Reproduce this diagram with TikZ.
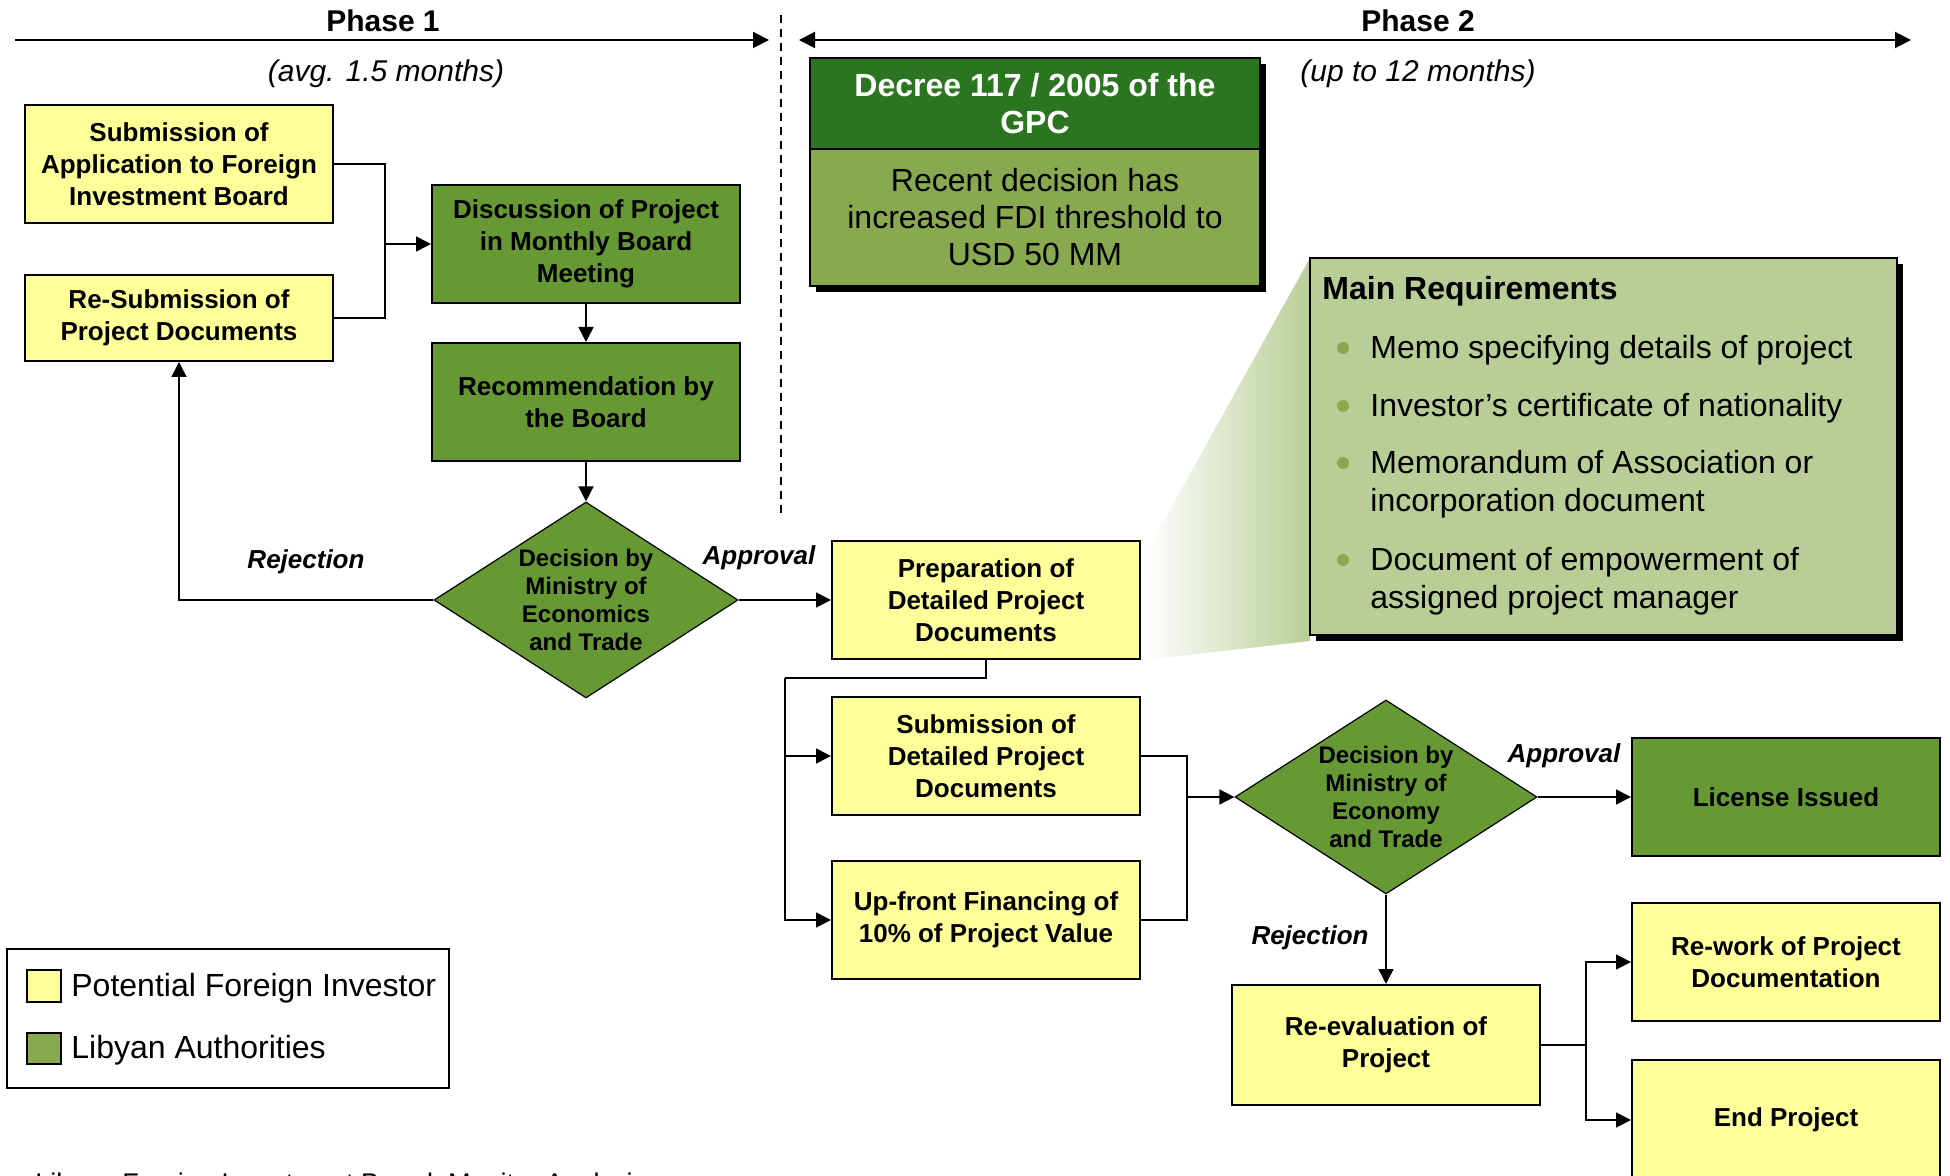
\documentclass[tikz,border=0pt]{standalone}
\usepackage{fontspec}
\setmainfont{Liberation Sans}
\usetikzlibrary{shapes.geometric,arrows.meta}

\definecolor{investor}{HTML}{FFFF99}
\definecolor{authority}{HTML}{669933}
\definecolor{decreehead}{HTML}{2B7521}
\definecolor{decreebody}{HTML}{88A94F}
\definecolor{reqfill}{HTML}{B9CE96}

\begin{document}
\begin{tikzpicture}[x=0.5pt, y=-0.5pt,
   box/.style={draw, line width=1pt, inner sep=0pt, align=center,
      font=\fontsize{13}{16}\selectfont\bfseries,
      minimum width=154pt, minimum height=59pt},
   invbox/.style={box, fill=investor},
   authbox/.style={box, fill=authority},
   decision/.style={diamond, draw, line width=0.6pt, fill=authority, inner sep=0pt,
      aspect=1.55, minimum width=152pt, minimum height=98pt, align=center,
      font=\fontsize{12}{14}\selectfont\bfseries},
   link/.style={line width=0.8pt},
   arrow/.style={link, -{Triangle[length=7.5pt,width=7.5pt]}},
   outcome/.style={font=\fontsize{13}{16}\selectfont\bfseries\itshape},
   phase/.style={line width=1pt, {Triangle[length=8pt,width=8pt]}-{Triangle[length=8pt,width=8pt]}},
   reqtext/.style={anchor=base west, inner sep=0pt, font=\fontsize{16}{19}\selectfont}]
   \useasboundingbox (0,0) rectangle (1950,1176);

   % draw phase arrows and divider
   \draw[line width=1pt, -{Triangle[length=8pt,width=8pt]}] (15,40) -- (769,40);
   \draw[phase] (799,40) -- (1911,40);
   \draw[line width=0.6pt, dash pattern=on 4pt off 3pt] (781,15) -- (781,516);
   \node[font=\fontsize{15}{18}\selectfont\bfseries] (phaseone) at (383,21) {Phase 1};
   \node[font=\fontsize{15}{18}\selectfont\bfseries] (phasetwo) at (1418,21) {Phase 2};
   \node[font=\fontsize{15}{18}\selectfont\itshape] (timeone) at (386,74) {(avg. 1.5 months)};
   \node[font=\fontsize{15}{18}\selectfont\itshape] (timetwo) at (1418,74) {(up to 12 months)};

   % draw decree box
   \fill (816,64) rectangle (1266,292);
   \node[draw, line width=0.8pt, fill=decreehead, text=white, minimum width=225pt, minimum height=45.5pt,
      inner sep=0pt, align=center, font=\fontsize{16}{18.5}\selectfont\bfseries] (decree) at (1035,103.5)
      {Decree 117 / 2005 of the\\GPC};
   \node[draw, line width=0.8pt, fill=decreebody, minimum width=225pt, minimum height=68.5pt,
      inner sep=0pt, align=center, font=\fontsize{16}{18.5}\selectfont] (threshold) at (1035,217.5)
      {Recent decision has\\increased FDI threshold to\\USD 50 MM};

   % draw requirements callout
   \shade[left color=white, right color=reqfill] (1152,542) -- (1310,258) -- (1310,641) -- (1145,660) -- cycle;
   \fill (1316,264) rectangle (1903,641);
   \node[draw, line width=0.8pt, fill=reqfill, minimum width=293.5pt, minimum height=188.5pt,
      inner sep=0pt] (req) at (1603.5,446.5) {};
   \node[reqtext, font=\fontsize{16}{19}\selectfont\bfseries] (reqtitle) at (1322,300) {Main Requirements};
   \foreach \y in {348,406,463,560}
     \fill[decreebody] (1343,\y) circle (3pt);
   \foreach \y/\t [count=\i] in {359/Memo specifying details of project,
         417/Investor’s certificate of nationality,
         474/Memorandum of Association or,
         512/incorporation document,
         571/Document of empowerment of,
         609/assigned project manager}
     \node[reqtext] (reqline\i) at (1370,\y) {\t};

   % draw process nodes
   \node[invbox] (subapp) at (179,164) {Submission of\\Application to Foreign\\Investment Board};
   \node[invbox, minimum height=43pt] (resub) at (179,318) {Re-Submission of\\Project Documents};
   \node[authbox] (discuss) at (586,244) {Discussion of Project\\in Monthly Board\\Meeting};
   \node[authbox] (recomm) at (586,402) {Recommendation by\\the Board};
   \node[decision] (decone) at (586,600) {Decision by\\Ministry of\\Economics\\and Trade};
   \node[invbox] (prep) at (986,600) {Preparation of\\Detailed Project\\Documents};
   \node[invbox] (subdet) at (986,756) {Submission of\\Detailed Project\\Documents};
   \node[invbox] (upfront) at (986,920) {Up-front Financing of\\10\% of Project Value};
   \node[decision, minimum width=151pt, minimum height=97pt] (dectwo) at (1386,797)
      {Decision by\\Ministry of\\Economy\\and Trade};
   \node[authbox] (license) at (1786,797) {License Issued};
   \node[invbox, minimum height=60pt] (reeval) at (1386,1045) {Re-evaluation of\\Project};
   \node[invbox] (rework) at (1786,962) {Re-work of Project\\Documentation};
   \node[invbox, minimum height=60pt] (endproj) at (1786,1120) {End Project};

   % draw connectors
   \coordinate (joinone) at (385,244);
   \coordinate (jointwo) at (785,678);
   \coordinate (jointhree) at (1187,797);
   \coordinate (joinfour) at (1586,1045);
   \draw[link] (subapp.east) -| (joinone);
   \draw[link] (resub.east) -| (joinone);
   \draw[arrow] (joinone) -- (discuss.west);
   \draw[arrow] (discuss) -- (recomm);
   \draw[arrow] (recomm) -- (decone);
   \draw[arrow] (decone.west) -| (resub.south);
   \draw[arrow] (decone.east) -- (prep.west);
   \draw[link] (prep.south) |- (jointwo);
   \draw[arrow] (jointwo) |- (subdet.west);
   \draw[arrow] (jointwo) |- (upfront.west);
   \draw[link] (subdet.east) -| (jointhree);
   \draw[link] (upfront.east) -| (jointhree);
   \draw[arrow] (jointhree) -- (dectwo.west);
   \draw[arrow] (dectwo.east) -- (license.west);
   \draw[arrow] (dectwo.south) -- (reeval.north);
   \draw[link] (reeval.east) -- (joinfour);
   \draw[arrow] (joinfour) |- (rework.west);
   \draw[arrow] (joinfour) |- (endproj.west);

   % draw outcome labels
   \node[outcome] (rejectone) at (306,562) {Rejection};
   \node[outcome] (approveone) at (759,558) {Approval};
   \node[outcome] (approvetwo) at (1564,756) {Approval};
   \node[outcome] (rejecttwo) at (1310,938) {Rejection};

   % draw legend
   \node[draw, line width=1pt, minimum width=221pt, minimum height=69.5pt, inner sep=0pt] (legend) at (228,1018.5) {};
   \draw[line width=0.8pt, fill=investor] (27,970) rectangle (61,1002);
   \draw[line width=0.8pt, fill=decreebody] (27,1033) rectangle (61,1064);
   \node[anchor=west, inner sep=0pt, font=\fontsize{16}{19}\selectfont] (keyinvestor) at (71,988) {Potential Foreign Investor};
   \node[anchor=west, inner sep=0pt, font=\fontsize{16}{19}\selectfont] (keyauthority) at (71,1050) {Libyan Authorities};

   % source line, cut by the page edge
   \node[anchor=base west, inner sep=0pt, font=\fontsize{13.5}{16}\selectfont] (source) at (35,1192)
      {Libyan Foreign Investment Board, Monitor Analysis};
\end{tikzpicture}
\end{document}
